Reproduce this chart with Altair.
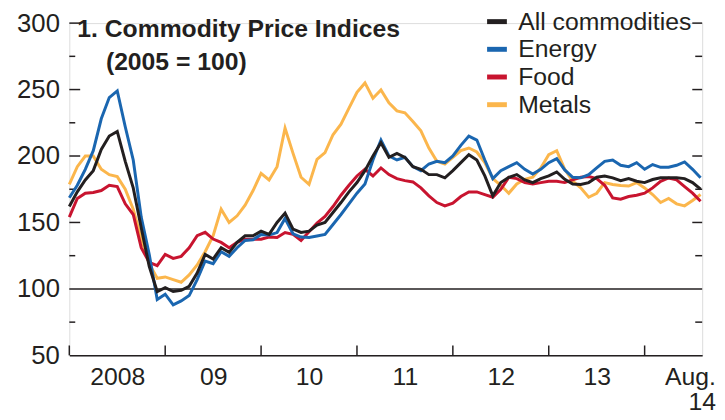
import altair as alt
import pandas as pd

# ---- data (monthly, Jan 2008 = month 0 ... Aug 2014 = month 79) ----
series_names = ["All commodities", "Energy", "Food", "Metals"]
series_colors = ["#231f20", "#1a66b0", "#c8142f", "#fbb64c"]

all_commodities = [162, 173, 182, 189, 205, 215, 218.5, 196, 176, 146, 117, 98,
                   101, 98, 99, 102, 112, 126, 122.5, 131, 127.5, 135, 140, 140,
                   143.5, 141, 150, 157, 145, 142.5, 143.5, 148, 150, 157.5, 165, 173,
                   180, 189, 200, 210, 199, 202, 199, 192, 190, 186, 186, 183.6,
                   189, 195, 201, 197, 185, 170, 180, 184, 186, 182, 180, 183,
                   185, 188, 182.5, 179, 178.6, 180, 184, 185, 183.6, 181.5, 183, 181,
                   180, 182.3, 183.6, 183.6, 183.6, 183, 180, 175]
energy = [168.6, 178, 190, 204, 228, 244, 249, 222, 197, 154, 126, 92,
          96, 88, 91, 95, 107, 121, 119, 128, 124.5, 131, 136.5, 137,
          141, 140.5, 142.4, 153, 141.5, 139, 138.7, 139.8, 141, 148.5, 156, 164,
          172, 179, 197, 212, 200, 197, 199, 192, 189, 194, 196, 195,
          200, 208, 215, 212, 197, 183, 189, 192, 195, 190, 186.5, 190,
          195, 198, 189.5, 184, 183.6, 186, 191, 196, 197, 193, 192, 195,
          190, 193.6, 191.5, 191.5, 193, 195.5, 190, 183.6]
food = [154, 168, 172, 172.6, 174, 178, 177, 164, 156, 131, 120, 117.5,
        126, 123, 124.5, 131, 140, 142.6, 137.5, 135, 131, 135, 137.4, 137.4,
        137.4, 139, 138.7, 142.4, 141, 136.5, 143, 149.5, 154.5, 162, 170.5, 178,
        185, 190, 185, 191, 186, 183, 181.5, 180.5, 176, 170, 165, 162.5,
        164.5, 169.5, 173, 173, 171, 169, 175, 184, 183, 180, 179, 180,
        181, 181, 180, 182, 184, 184.5, 183, 178, 168.5, 167.5, 169.5, 170.5,
        172, 176, 181, 183.5, 182, 177, 172, 166]
metals = [178.6, 192, 200, 200, 190, 186, 184.5, 175, 160, 138, 119, 108,
          109, 107, 105, 110.5, 118, 128, 140, 160, 150, 155, 163, 174,
          187, 182, 192, 221, 202, 184, 178.6, 197.5, 202.5, 216, 224, 236,
          248, 255, 243.5, 249.7, 240, 234, 232.5, 226, 219, 206, 196, 194,
          199, 204, 206, 203, 195, 183, 178, 172, 179, 182.5, 184, 191,
          201, 204, 190, 181, 176, 169, 172, 180, 178.6, 177.8, 177.4, 180,
          176, 171, 165, 168, 164, 162.5, 166.5, 171]

year_start_months = [0, 12, 24, 36, 48, 60, 72]
x_label_months = [6, 18, 30, 42, 54, 66, 79]
x_labels = ["2008", "09", "10", "11", "12", "13", "Aug.\n14"]
y_label_values = [50, 100, 150, 200, 250, 300]
y_major_ticks = [150, 200, 250, 300]
y_minor_ticks = [75, 125, 175, 225, 275]
reference_level = [100]
title_line1 = "1. Commodity Price Indices"
title_line2 = "(2005 = 100)"

# ---- tables ----
rows = []
for name, vals in [("Metals", metals), ("Food", food), ("Energy", energy),
                   ("All commodities", all_commodities)]:
    for i, v in enumerate(vals):
        rows.append({"month": i, "series": name, "value": v})
df = pd.DataFrame(rows)

FONT = "Liberation Sans"
TXT = "#231f20"
W, H = 640, 336

def lbl(s):
    parts = s.split("\n")
    if len(parts) == 1:
        return "'" + s + "'"
    return "[" + ",".join("'" + p + "'" for p in parts) + "]"

label_expr = ""
for m, s in zip(x_label_months, x_labels):
    label_expr += f"datum.value == {m} ? {lbl(s)} : "
label_expr += "''"

xscale = alt.Scale(domain=[0, 79.2], nice=False, zero=False)
yscale = alt.Scale(domain=[50, 300], nice=False, zero=False)

x_axis = alt.Axis(values=x_label_months, labelExpr=label_expr, ticks=False,
                  domain=True, domainColor=TXT, domainWidth=1.5, grid=False,
                  labelFontSize=25, labelFont=FONT, labelColor=TXT,
                  labelPadding=9, labelFlush=5, labelFlushOffset=15,
                  labelLineHeight=26, labelOverlap=False, labelBound=False,
                  title=None)
y_axis = alt.Axis(values=y_label_values, ticks=False, domain=False, grid=False,
                  labelFontSize=26, labelFont=FONT, labelColor=TXT,
                  labelPadding=10, title=None, format="d")

def X():
    return alt.X("month:Q", scale=xscale, axis=x_axis)

def Y():
    return alt.Y("value:Q", scale=yscale, axis=y_axis)

ref = alt.Chart(pd.DataFrame({"value": reference_level})).mark_rule(
    color=TXT, strokeWidth=1.5).encode(y=Y())

lines = alt.Chart(df).mark_line(strokeWidth=3).encode(
    x=X(), y=Y(),
    color=alt.Color("series:N",
                    scale=alt.Scale(domain=series_names, range=series_colors),
                    sort=series_names,
                    legend=alt.Legend(orient="none", legendX=420, legendY=-14, title=None,
                                      symbolType="stroke", symbolStrokeWidth=5,
                                      symbolSize=400, labelFontSize=25, labelFont=FONT,
                                      labelColor=TXT, labelOffset=9, rowPadding=2,
                                      padding=0, labelLimit=400)),
    detail="series:N",
)

xticks = alt.Chart(pd.DataFrame({"month": year_start_months})).mark_rule(
    color=TXT, strokeWidth=1.5).encode(x=X(), y=alt.value(H), y2=alt.value(H - 10))

def ytick(vals, x0, x1):
    return alt.Chart(pd.DataFrame({"value": vals})).mark_rule(
        color=TXT, strokeWidth=1.5).encode(y=Y(), x=alt.value(x0), x2=alt.value(x1))

tick_layers = [ytick(y_major_ticks, 0, 11), ytick(y_minor_ticks, 0, 6),
               ytick(y_major_ticks, W - 10, W), ytick(y_minor_ticks, W - 7, W)]

def title_text(t, x, y):
    return alt.Chart(pd.DataFrame({"t": [t]})).mark_text(
        font=FONT, fontSize=25, fontWeight="bold", color=TXT, align="left",
        baseline="alphabetic").encode(text="t:N", x=alt.value(x), y=alt.value(y))

titles = [title_text(title_line1, 8, 14), title_text(title_line2, 37, 47)]

chart = alt.layer(ref, xticks, *tick_layers, lines, *titles).properties(
    width=W, height=H,
    autosize=alt.AutoSizeParams(type="none"),
    padding={"left": 62, "top": 13, "right": 15, "bottom": 55},
).configure_view(stroke=None).configure(background="white")

chart.save("out.html", embed_options={"renderer": "svg", "actions": False})
